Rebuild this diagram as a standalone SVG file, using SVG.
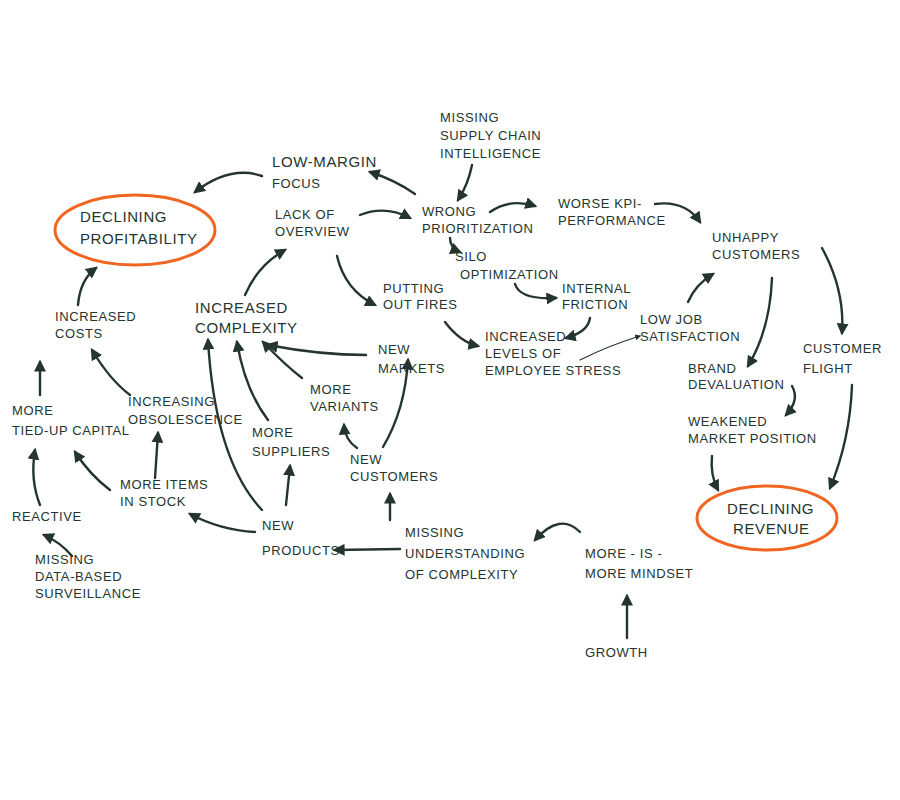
<svg xmlns="http://www.w3.org/2000/svg" width="900" height="800" viewBox="0 0 900 800">
<style>
text{font-family:"Liberation Sans",Arial,sans-serif;font-size:13px;fill:#24352f;letter-spacing:0.6px;text-transform:uppercase}
.c path{fill:none;stroke:#24352f;stroke-width:2.4;stroke-linecap:round;marker-end:url(#ah)}
.c path.t{stroke-width:1.2}
ellipse{fill:none;stroke:#f0651f;stroke-width:3}
.big{font-size:15px}
</style>
<defs><marker id="ah" viewBox="0 0 10 10" refX="8" refY="5" markerWidth="5" markerHeight="5" orient="auto" markerUnits="strokeWidth"><path d="M0,0 L10,5 L0,10 z" fill="#24352f"/></marker></defs>
<rect width="900" height="800" fill="#fff"/>
<g id="n-msci"><text x="440" y="122">Missing</text><text x="440" y="140">Supply chain</text><text x="440" y="158">intelligence</text></g>
<g id="n-lowmargin"><text x="272" y="167" class="big">Low-margin</text><text x="272" y="188">focus</text></g>
<g id="n-declprof"><ellipse cx="135" cy="230" rx="80" ry="35"/><text x="80" y="222" class="big">Declining</text><text x="80" y="244" class="big">Profitability</text></g>
<g id="n-lack"><text x="275" y="219">Lack of</text><text x="275" y="236">overview</text></g>
<g id="n-wrong"><text x="422" y="216">Wrong</text><text x="422" y="233">prioritization</text></g>
<g id="n-kpi"><text x="558" y="208">Worse KPI-</text><text x="558" y="225">performance</text></g>
<g id="n-unhappy"><text x="712" y="242">Unhappy</text><text x="712" y="259">customers</text></g>
<g id="n-silo"><text x="455" y="261">Silo</text><text x="460" y="279">optimization</text></g>
<g id="n-friction"><text x="562" y="293">Internal</text><text x="562" y="309">friction</text></g>
<g id="n-fires"><text x="383" y="293">Putting</text><text x="383" y="309">out fires</text></g>
<g id="n-inccomp"><text x="195" y="313" class="big">Increased</text><text x="195" y="333" class="big">complexity</text></g>
<g id="n-stress"><text x="485" y="341">Increased</text><text x="485" y="358">levels of</text><text x="485" y="375">employee stress</text></g>
<g id="n-lowjob"><text x="640" y="324">Low job</text><text x="640" y="341">satisfaction</text></g>
<g id="n-markets"><text x="378" y="354">New</text><text x="378" y="373">markets</text></g>
<g id="n-variants"><text x="310" y="394">More</text><text x="310" y="411">variants</text></g>
<g id="n-costs"><text x="55" y="321">Increased</text><text x="55" y="338">costs</text></g>
<g id="n-tied"><text x="12" y="415">More</text><text x="12" y="435">tied-up capital</text></g>
<g id="n-obso"><text x="128" y="406">Increasing</text><text x="128" y="424">obsolescence</text></g>
<g id="n-brand"><text x="688" y="373">Brand</text><text x="688" y="389">devaluation</text></g>
<g id="n-weak"><text x="688" y="426">Weakened</text><text x="688" y="443">market position</text></g>
<g id="n-flight"><text x="803" y="353">Customer</text><text x="803" y="373">flight</text></g>
<g id="n-suppliers"><text x="252" y="437">More</text><text x="252" y="456">suppliers</text></g>
<g id="n-newcust"><text x="350" y="464">New</text><text x="350" y="481">customers</text></g>
<g id="n-items"><text x="120" y="489">More items</text><text x="120" y="506">in stock</text></g>
<g id="n-reactive"><text x="12" y="521">Reactive</text></g>
<g id="n-mds"><text x="35" y="564">Missing</text><text x="35" y="581">data-based</text><text x="35" y="598">surveillance</text></g>
<g id="n-newprod"><text x="262" y="530">New</text><text x="262" y="555">products</text></g>
<g id="n-muc"><text x="405" y="537">Missing</text><text x="405" y="558">understanding</text><text x="405" y="579">of complexity</text></g>
<g id="n-mim"><text x="585" y="558">More - is -</text><text x="585" y="578">more mindset</text></g>
<g id="n-declrev"><ellipse cx="767" cy="518" rx="70" ry="32"/><text x="727" y="514" class="big">Declining</text><text x="733" y="534" class="big">Revenue</text></g>
<g id="n-growth"><text x="585" y="657">Growth</text></g>
<g class="c" id="connectors">
<path d="M262,176 Q230,165 195,192"/>
<path d="M415,194 Q395,180 370,172"/>
<path d="M472,165 Q468,185 458,200"/>
<path d="M360,215 Q385,205 410,218"/>
<path d="M490,212 Q510,198 535,206"/>
<path d="M655,204 Q685,200 700,222"/>
<path d="M450,238 Q450,248 460,252"/>
<path d="M515,284 Q520,300 556,298"/>
<path d="M337,256 Q345,290 375,305"/>
<path d="M445,322 Q460,342 478,346"/>
<path d="M590,318 Q588,332 566,338"/>
<path class="t" d="M580,360 Q610,345 640,336"/>
<path d="M688,302 Q695,285 713,274"/>
<path d="M822,248 Q845,290 842,333"/>
<path d="M772,278 Q770,330 748,366"/>
<path d="M792,386 Q800,400 786,415"/>
<path d="M712,456 Q710,475 718,490"/>
<path d="M852,385 Q850,440 830,488"/>
<path d="M245,295 Q258,265 285,250"/>
<path d="M366,355 Q320,355 268,345"/>
<path d="M302,378 Q285,365 263,342"/>
<path d="M268,420 Q245,390 237,342"/>
<path d="M262,510 Q215,460 208,340"/>
<path d="M286,505 L290,466"/>
<path d="M357,448 Q345,440 344,425"/>
<path d="M383,447 Q405,410 408,360"/>
<path d="M390,520 L390,494"/>
<path d="M400,549 L335,550"/>
<path d="M580,532 Q560,512 535,540"/>
<path d="M627,638 L627,596"/>
<path d="M255,532 Q220,530 190,514"/>
<path d="M155,478 L158,433"/>
<path d="M110,490 Q90,475 75,452"/>
<path d="M40,505 Q30,480 35,450"/>
<path d="M72,556 Q60,542 44,535"/>
<path d="M40,395 L40,362"/>
<path d="M130,395 Q110,380 92,350"/>
<path d="M78,305 Q80,280 96,268"/>
</g>
</svg>
